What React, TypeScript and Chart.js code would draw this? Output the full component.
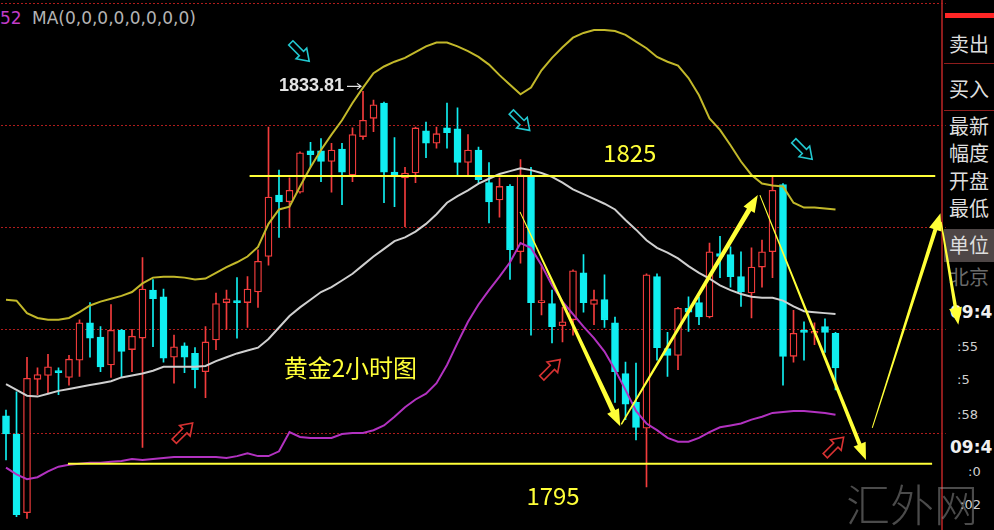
import React, { useEffect, useRef } from "react";
import { Chart, registerables } from "chart.js";

Chart.register(...registerables);

// ---- data ----
const slotCount = 90; // 80 candles + empty space on the right
const slotLabels = Array.from({ length: slotCount }, (_, i) => String(i + 1));

const opens = [
  1800.0, 1798.1, 1789.9, 1803.8, 1804.2, 1804.6, 1804.0, 1805.8, 1809.7, 1808.2,
  1805.3, 1808.9, 1806.9, 1808.1, 1813.1, 1812.4, 1806.1, 1807.3, 1806.5, 1804.6,
  1807.9, 1811.8, 1812.0, 1811.8, 1812.9, 1816.6, 1823.0, 1822.3, 1823.3, 1827.6,
  1827.6, 1826.5, 1827.8, 1825.1, 1829.1, 1831.0, 1832.6, 1825.4, 1824.8, 1825.3,
  1829.7, 1828.4, 1830.0, 1829.9, 1826.4, 1827.7, 1824.3, 1822.5, 1823.9, 1817.1,
  1824.9, 1811.8, 1811.7, 1809.4, 1810.0, 1814.9, 1811.6, 1812.1, 1809.7, 1804.4,
  1801.4, 1798.7, 1814.5, 1807.0, 1806.3, 1811.2, 1811.8, 1810.3, 1816.9, 1816.8,
  1814.5, 1812.8, 1815.5, 1817.1, 1824.1, 1806.2, 1808.9, 1808.6, 1809.3, 1808.6,
];
const highs = [
  1800.6, 1802.5, 1806.1, 1805.0, 1806.4, 1805.0, 1806.3, 1810.0, 1811.8, 1809.3,
  1811.6, 1809.0, 1809.0, 1816.5, 1814.2, 1813.2, 1808.4, 1807.6, 1807.1, 1809.3,
  1812.8, 1813.1, 1814.4, 1814.5, 1817.3, 1830.1, 1825.6, 1824.8, 1827.5, 1828.5,
  1828.9, 1828.4, 1828.4, 1830.0, 1833.81, 1832.9, 1832.7, 1829.0, 1825.9, 1830.1,
  1830.6, 1830.1, 1832.6, 1832.1, 1829.3, 1828.0, 1826.4, 1824.8, 1824.1, 1826.7,
  1825.9, 1815.7, 1813.1, 1811.3, 1815.2, 1816.8, 1813.1, 1814.7, 1810.3, 1805.6,
  1805.5, 1814.8, 1814.8, 1808.7, 1811.3, 1812.4, 1812.4, 1818.0, 1818.7, 1817.6,
  1817.1, 1817.5, 1818.3, 1824.9, 1824.2, 1811.0, 1809.8, 1809.7, 1810.1, 1808.7,
];
const lows = [
  1795.4, 1789.5, 1789.3, 1802.2, 1802.4, 1802.2, 1803.2, 1804.1, 1806.1, 1804.6,
  1804.0, 1804.0, 1804.6, 1796.7, 1807.2, 1805.6, 1803.4, 1804.5, 1802.9, 1801.9,
  1806.9, 1809.0, 1808.1, 1809.2, 1811.3, 1815.7, 1818.6, 1819.6, 1823.2, 1825.9,
  1824.4, 1823.3, 1822.0, 1824.4, 1828.8, 1829.6, 1822.2, 1821.8, 1819.7, 1824.3,
  1826.9, 1827.9, 1827.9, 1825.1, 1825.1, 1824.3, 1820.1, 1820.7, 1814.2, 1815.9,
  1808.4, 1810.5, 1807.6, 1807.7, 1808.4, 1810.8, 1809.5, 1809.2, 1801.4, 1799.6,
  1797.5, 1792.6, 1805.8, 1804.1, 1804.8, 1808.8, 1809.5, 1810.2, 1814.4, 1813.4,
  1811.4, 1810.2, 1813.4, 1814.4, 1803.2, 1805.6, 1805.8, 1807.4, 1806.6, 1802.7,
];
const closes = [
  1798.1, 1789.7, 1803.9, 1804.3, 1805.1, 1804.5, 1805.9, 1809.7, 1808.1, 1805.1,
  1808.9, 1806.7, 1808.3, 1813.2, 1812.2, 1806.0, 1807.2, 1806.1, 1804.8, 1807.7,
  1811.7, 1812.2, 1811.8, 1813.2, 1816.1, 1822.8, 1822.3, 1823.5, 1827.4, 1827.2,
  1826.5, 1827.7, 1825.4, 1829.3, 1830.8, 1832.4, 1825.4, 1825.1, 1825.3, 1830.0,
  1828.4, 1829.4, 1829.5, 1826.4, 1827.7, 1824.6, 1822.3, 1823.9, 1817.3, 1825.1,
  1811.8, 1812.0, 1809.3, 1809.8, 1815.1, 1811.8, 1812.1, 1810.0, 1804.6, 1801.2,
  1798.8, 1814.7, 1807.1, 1806.3, 1811.2, 1810.8, 1810.3, 1817.1, 1816.6, 1814.5,
  1812.9, 1815.5, 1817.1, 1823.5, 1806.2, 1808.6, 1808.7, 1808.8, 1808.7, 1805.0,
];
const upperBand = [
  1812.1, 1812.0, 1810.7, 1810.2, 1810.0, 1810.0, 1810.2, 1810.8, 1811.5, 1811.9,
  1812.2, 1812.5, 1812.9, 1813.8, 1814.4, 1814.5, 1814.5, 1814.4, 1814.2, 1814.3,
  1814.9, 1815.5, 1816.0, 1816.6, 1817.6, 1820.0, 1821.5, 1821.8, 1823.9, 1825.9,
  1827.7, 1829.3, 1830.8, 1832.6, 1834.2, 1835.7, 1836.4, 1836.9, 1837.3, 1837.9,
  1838.5, 1838.9, 1838.9, 1838.5, 1838.0, 1837.4, 1836.6, 1835.5, 1834.5, 1833.5,
  1834.2, 1836.0, 1837.3, 1838.4, 1839.4, 1839.9, 1840.2, 1840.2, 1840.1, 1839.7,
  1839.0, 1838.3, 1837.4, 1836.9, 1836.5, 1835.2, 1833.4, 1831.0, 1829.8, 1828.2,
  1826.5, 1825.1, 1824.2, 1824.0, 1823.9, 1822.2, 1821.7, 1821.7, 1821.6, 1821.5,
];
const middleBand = [
  1803.3, 1802.7, 1802.1, 1802.0, 1802.3, 1802.6, 1802.8, 1803.0, 1803.2, 1803.4,
  1803.6, 1804.0, 1804.2, 1804.4, 1804.7, 1805.1, 1805.1, 1805.1, 1805.1, 1805.2,
  1805.7, 1806.1, 1806.5, 1806.8, 1807.1, 1808.0, 1809.2, 1810.4, 1811.3, 1812.1,
  1812.9, 1813.4, 1814.1, 1814.8, 1815.7, 1816.6, 1817.4, 1818.2, 1818.6, 1819.2,
  1820.0, 1821.0, 1822.2, 1822.9, 1823.5, 1824.2, 1824.7, 1825.2, 1825.5, 1825.8,
  1825.6, 1825.3, 1824.9, 1824.3, 1823.6, 1823.1, 1822.6, 1822.1, 1821.5, 1820.4,
  1819.4, 1818.3, 1817.5, 1817.0, 1816.4, 1815.6, 1814.9, 1814.3, 1813.6, 1813.1,
  1812.7, 1812.4, 1812.3, 1812.3, 1812.0, 1811.4, 1810.9, 1810.8, 1810.7, 1810.6,
];
const lowerBand = [
  1794.6, 1793.9, 1793.4, 1793.6, 1794.2, 1794.7, 1794.9, 1795.0, 1795.1, 1795.1,
  1795.2, 1795.3, 1795.5, 1795.4, 1795.5, 1795.6, 1795.7, 1795.7, 1795.7, 1795.7,
  1795.7, 1795.6, 1795.8, 1796.1, 1795.8, 1795.8, 1796.3, 1798.3, 1797.8, 1797.7,
  1797.7, 1797.7, 1798.1, 1798.2, 1798.2, 1798.5, 1799.0, 1799.9, 1800.9, 1801.7,
  1802.3, 1803.4, 1805.3, 1807.6, 1809.8, 1811.6, 1813.1, 1814.5, 1816.0, 1818.0,
  1817.5, 1815.7, 1813.6, 1811.9, 1810.6, 1809.3, 1808.1, 1806.7, 1804.8, 1802.7,
  1800.5, 1799.2, 1798.5, 1797.7, 1797.3, 1797.3, 1797.7, 1798.3, 1798.8, 1799.0,
  1799.2, 1799.6, 1799.9, 1800.3, 1800.4, 1800.5, 1800.5, 1800.4, 1800.3, 1800.1,
];
const gridLevels = [1843.0, 1830.3, 1819.6, 1809.0, 1798.2];
const priceMin = 1788.1;
const priceMax = 1843.33;

// annotations (in data coordinates: slot index, price)
const levelLines = [
  { value: 1825, from: 23.2, to: 88.5 },
  { value: 1795, from: 5.9, to: 88.2 },
];
const levelTexts = [
  { text: "1825", slot: 59.4, price: 1827.4 },
  { text: "1795", slot: 52.1, price: 1791.7 },
  { text: "黄金2小时图", slot: 32.8, price: 1805.0 },
];
const peakLabel = { text: "1833.81", slot: 34, price: 1833.81 };
const tealMarkers = [
  [28.0, 1837.9],
  [49.0, 1830.7],
  [75.9, 1827.7],
];
const redMarkers = [
  [16.9, 1798.3],
  [51.9, 1804.9],
  [78.9, 1796.8],
];
const trendArrows = [
  { from: [48.95, 1821.25], to: [58.5, 1798.9], w1: 1, w2: 5 },
  { from: [58.6, 1799.1], to: [71.6, 1823.0], w1: 1.5, w2: 5 },
  { from: [71.8, 1823.0], to: [81.9, 1795.4], w1: 1, w2: 4 },
  { from: [82.5, 1798.75], to: [89.0, 1821.1], w1: 1, w2: 4 },
  { from: [89.05, 1820.2], to: [90.7, 1809.5], w1: 1.5, w2: 3.5 },
];

const panelLabels = ["卖出", "买入", "最新", "幅度", "开盘", "最低", "单位", "北京"];
const timeLabels = ["09:4", ":55", ":5", ":58", "09:4", ":0", ":02"];

// ---- styles ----
const UP = "#f23c3c";
const DOWN = "#10eef0";
const YELLOW = "#ffff38";

function taperArrow(ctx: CanvasRenderingContext2D, x1: number, y1: number, x2: number, y2: number, w1: number, w2: number) {
  const hl = 17;
  const hw = 13;
  const dx = x2 - x1, dy = y2 - y1;
  const len = Math.hypot(dx, dy);
  const ux = dx / len, uy = dy / len;
  const nx = -uy, ny = ux;
  const bx = x2 - ux * hl, by = y2 - uy * hl;
  ctx.beginPath();
  ctx.moveTo(x1 + (nx * w1) / 2, y1 + (ny * w1) / 2);
  ctx.lineTo(bx + (nx * w2) / 2, by + (ny * w2) / 2);
  ctx.lineTo(bx + (nx * hw) / 2, by + (ny * hw) / 2);
  ctx.lineTo(x2, y2);
  ctx.lineTo(bx - (nx * hw) / 2, by - (ny * hw) / 2);
  ctx.lineTo(bx - (nx * w2) / 2, by - (ny * w2) / 2);
  ctx.lineTo(x1 - (nx * w1) / 2, y1 - (ny * w1) / 2);
  ctx.closePath();
  ctx.fill();
}

function hollowArrow(ctx: CanvasRenderingContext2D, cx: number, cy: number, angle: number, color: string) {
  const pts = [[-13, -3], [2, -3], [2, -7.5], [13, 0], [2, 7.5], [2, 3], [-13, 3]];
  ctx.save();
  ctx.translate(cx, cy);
  ctx.rotate(angle);
  ctx.beginPath();
  pts.forEach(([a, b], i) => (i ? ctx.lineTo(a, b) : ctx.moveTo(a, b)));
  ctx.closePath();
  ctx.strokeStyle = color;
  ctx.lineWidth = 1.6;
  ctx.stroke();
  ctx.restore();
}

const overlayPlugin = {
  id: "overlay",
  afterDraw(chart: any) {
    const { ctx } = chart;
    const xs = chart.scales.x;
    const ys = chart.scales.y;
    const X = (v: number) => xs.getPixelForValue(v);
    const Y = (v: number) => ys.getPixelForValue(v);
    ctx.save();
    // horizontal levels
    ctx.strokeStyle = YELLOW;
    ctx.lineWidth = 2;
    levelLines.forEach((l) => {
      ctx.beginPath();
      ctx.moveTo(X(l.from), Y(l.value));
      ctx.lineTo(X(l.to), Y(l.value));
      ctx.stroke();
    });
    // texts
    ctx.fillStyle = YELLOW;
    ctx.font = "24px 'Noto Sans CJK SC', sans-serif";
    ctx.textAlign = "center";
    ctx.textBaseline = "middle";
    levelTexts.forEach((t) => ctx.fillText(t.text, X(t.slot), Y(t.price)));
    // peak label
    const px = X(peakLabel.slot);
    const py = Y(peakLabel.price) - 5;
    ctx.fillStyle = "#e4e4e4";
    ctx.font = "bold 18px 'Liberation Sans', Arial, sans-serif";
    ctx.textAlign = "right";
    ctx.fillText(peakLabel.text, px - 19, py);
    ctx.strokeStyle = "#e4e4e4";
    ctx.lineWidth = 1.2;
    ctx.beginPath();
    ctx.moveTo(px - 16, py);
    ctx.lineTo(px - 2, py);
    ctx.moveTo(px - 6, py - 3);
    ctx.lineTo(px - 2, py);
    ctx.lineTo(px - 6, py + 3);
    ctx.stroke();
    // hollow markers
    tealMarkers.forEach(([s, p]) => hollowArrow(ctx, X(s), Y(p), Math.PI / 4, "#22c8d0"));
    redMarkers.forEach(([s, p]) => hollowArrow(ctx, X(s), Y(p), -Math.PI / 4, "#d83232"));
    // trend arrows
    ctx.fillStyle = YELLOW;
    trendArrows.forEach((a) =>
      taperArrow(ctx, X(a.from[0]), Y(a.from[1]), X(a.to[0]), Y(a.to[1]), a.w1, a.w2)
    );
    ctx.restore();
  },
};

export default function App() {
  const ref = useRef<HTMLCanvasElement>(null);

  useEffect(() => {
    document.body.style.margin = "0";
    document.body.style.background = "#000";
    const isUp = opens.map((o, i) => closes[i] >= o);
    const chart = new Chart(ref.current as HTMLCanvasElement, {
      type: "bar",
      data: {
        labels: slotLabels,
        datasets: [
          {
            type: "line",
            data: upperBand,
            borderColor: "#c2b82a",
            borderWidth: 2,
            pointRadius: 0,
            order: 0,
          } as any,
          {
            type: "line",
            data: middleBand,
            borderColor: "#cfcfcf",
            borderWidth: 2,
            pointRadius: 0,
            order: 0,
          } as any,
          {
            type: "line",
            data: lowerBand,
            borderColor: "#b232c0",
            borderWidth: 2,
            pointRadius: 0,
            order: 0,
          } as any,
          {
            data: opens.map((o, i) => [Math.min(o, closes[i]), Math.max(o, closes[i])]),
            backgroundColor: isUp.map((u) => (u ? "#000000" : DOWN)),
            borderColor: isUp.map((u) => (u ? UP : DOWN)),
            borderWidth: 1.3,
            borderSkipped: false,
            barThickness: 7,
            minBarLength: 2,
            grouped: false,
            order: 1,
          } as any,
          {
            data: lows.map((l, i) => [l, highs[i]]),
            backgroundColor: isUp.map((u) => (u ? UP : DOWN)),
            borderWidth: 0,
            barThickness: 1,
            grouped: false,
            order: 2,
          } as any,
        ],
      },
      options: {
        responsive: false,
        maintainAspectRatio: false,
        animation: false,
        events: [],
        layout: { padding: { left: 0.75, right: 48.25, top: 0, bottom: 0 } },
        plugins: { legend: { display: false }, tooltip: { enabled: false } },
        scales: {
          x: { display: false },
          y: {
            min: priceMin,
            max: priceMax,
            display: true,
            afterBuildTicks: (scale: any) => {
              scale.ticks = gridLevels.map((v) => ({ value: v }));
            },
            ticks: { display: false },
            grid: { color: "#b01c1c", lineWidth: 1, drawTicks: false },
            border: { display: false, dash: [2, 2] },
          },
        },
      } as any,
      plugins: [overlayPlugin],
    });
    return () => chart.destroy();
  }, []);

  const panelTops = [44, 89, 126, 153, 181, 208, 245, 277];
  const timeTops = [312, 347, 380, 415, 447, 472, 505];
  const timeLefts = [950, 957, 957, 957, 950, 968, 960];

  return (
    <div
      style={{
        position: "relative",
        width: 994,
        height: 530,
        background: "#000",
        overflow: "hidden",
        fontFamily: "'DejaVu Sans', sans-serif",
      }}
    >
      {/* header */}
      <div style={{ position: "absolute", left: 0, top: 7, fontSize: 17, lineHeight: "22px", color: "#c23cc8" }}>52</div>
      <div style={{ position: "absolute", left: 32, top: 7, fontSize: 17, lineHeight: "22px", color: "#b4b4b4" }}>
        MA(0,0,0,0,0,0,0,0)
      </div>
      {/* side panel */}
      <div style={{ position: "absolute", left: 941, top: 0, width: 2, height: 530, background: "#8e1c1c" }} />
      <div style={{ position: "absolute", left: 945, top: 13, width: 49, height: 5, background: "#ff2626" }} />
      <div style={{ position: "absolute", left: 944, top: 63, width: 50, height: 1, background: "#8e1c1c" }} />
      <div style={{ position: "absolute", left: 944, top: 110, width: 50, height: 1, background: "#8e1c1c" }} />
      <div style={{ position: "absolute", left: 944, top: 229, width: 50, height: 33, background: "#4e4646" }} />
      {panelLabels.map((t, i) => (
        <div
          key={t}
          style={{
            position: "absolute",
            left: 949,
            top: panelTops[i] - 12,
            fontSize: 20,
            lineHeight: "24px",
            whiteSpace: "nowrap",
            color: t === "北京" ? "#6a6a6a" : "#dedede",
            fontFamily: "'Noto Sans CJK SC', sans-serif",
          }}
        >
          {t}
        </div>
      ))}
      {timeLabels.map((t, i) => (
        <div
          key={i}
          style={{
            position: "absolute",
            left: timeLefts[i],
            top: timeTops[i] - 10,
            fontSize: t.startsWith("09") ? 17 : 13,
            fontWeight: t.startsWith("09") ? "bold" : "normal",
            lineHeight: "20px",
            whiteSpace: "nowrap",
            color: t.startsWith("09") ? "#f0f0f0" : "#cfcfcf",
          }}
        >
          {t}
        </div>
      ))}
      <canvas
        ref={ref}
        width={994}
        height={530}
        style={{ position: "absolute", left: 0, top: 0, zIndex: 1 }}
      />
      <div
        style={{
          position: "absolute",
          left: 846,
          top: 478,
          zIndex: 2,
          fontSize: 44,
          lineHeight: "50px",
          color: "rgba(150,150,150,0.5)",
          fontFamily: "'Noto Sans CJK SC', sans-serif",
          fontWeight: 300,
          whiteSpace: "nowrap",
        }}
      >
        汇外网
      </div>
    </div>
  );
}
